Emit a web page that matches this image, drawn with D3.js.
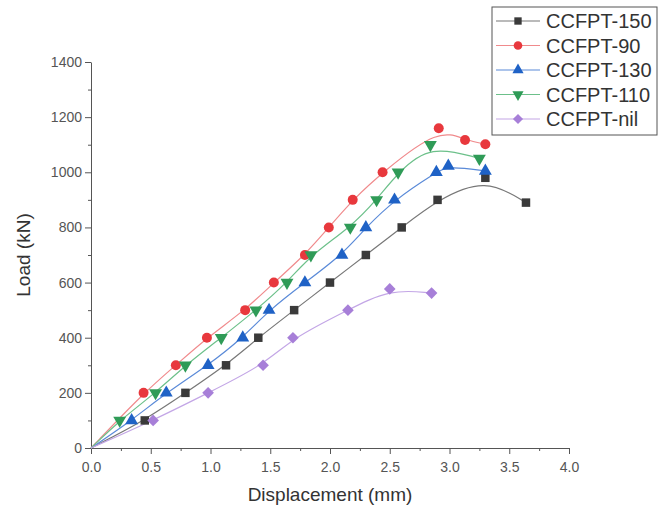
<!DOCTYPE html>
<html>
<head>
<meta charset="utf-8">
<script src="https://cdn.jsdelivr.net/npm/d3@7"></script>
<style>
  body { margin: 0; background: #fff; }
  svg { font-family: "Liberation Sans", Arial, sans-serif; }
</style>
</head>
<body>
<div id="chart"></div>
<script>
// data
const names = ["CCFPT-150", "CCFPT-90", "CCFPT-130", "CCFPT-110", "CCFPT-nil"];
const disp150 = [0, 0.45, 0.79, 1.13, 1.40, 1.70, 2.00, 2.30, 2.60, 2.90, 3.30, 3.64];
const load150 = [0, 100, 200, 300, 400, 500, 600, 700, 800, 900, 980, 890];
const disp90 = [0, 0.44, 0.71, 0.97, 1.29, 1.53, 1.79, 1.99, 2.19, 2.44, 2.91, 3.13, 3.30];
const load90 = [0, 200, 300, 400, 500, 600, 700, 800, 900, 1000, 1160, 1117, 1102];
const disp130 = [0, 0.34, 0.63, 0.98, 1.27, 1.49, 1.79, 2.10, 2.30, 2.54, 2.89, 2.99, 3.30];
const load130 = [0, 100, 200, 300, 400, 500, 600, 700, 800, 900, 1000, 1023, 1005];
const disp110 = [0, 0.24, 0.54, 0.79, 1.09, 1.38, 1.64, 1.84, 2.17, 2.39, 2.57, 2.84, 3.25];
const load110 = [0, 100, 200, 300, 400, 500, 600, 700, 800, 900, 1000, 1100, 1050];
const dispNil = [0, 0.52, 0.98, 1.44, 1.69, 2.15, 2.50, 2.85];
const loadNil = [0, 100, 200, 300, 400, 500, 577, 562];
const xTicks = [0, 0.5, 1.0, 1.5, 2.0, 2.5, 3.0, 3.5, 4.0];
const yTicks = [0, 200, 400, 600, 800, 1000, 1200, 1400];

const colors = ["#3a3a3a", "#e8383d", "#1f62c6", "#2f9b57", "#a77fd8"];
const lineColors = ["#777", "#f08a8c", "#5a8ad8", "#6cc08a", "#c3a6e6"];
const symbols = [d3.symbolSquare, d3.symbolCircle, d3.symbolTriangle, d3.symbolTriangle, d3.symbolSquare];
const rotations = [0, 0, 0, 180, 45];
const sizes = [72, 78, 72, 72, 68];

const dispAll = [disp150, disp90, disp130, disp110, dispNil];
const loadAll = [load150, load90, load130, load110, loadNil];
const series = names.map((n, i) => ({
  name: n, i: i,
  pts: dispAll[i].map((d, j) => ({x: d, y: loadAll[i][j]}))
}));

const W = 666, H = 512;
const margin = {top: 62, right: 97, bottom: 64, left: 91};
const width = W - margin.left - margin.right;
const height = H - margin.top - margin.bottom;

const svg = d3.select("#chart").append("svg")
  .attr("width", W).attr("height", H);
const g = svg.append("g")
  .attr("transform", `translate(${margin.left},${margin.top})`);

const x = d3.scaleLinear().domain([0, 4]).range([0, width]);
const y = d3.scaleLinear().domain([0, 1400]).range([height, 0]);

// axes
const xAxis = g.append("g").attr("transform", `translate(0,${height})`)
  .call(d3.axisBottom(x).tickValues(xTicks).tickFormat(d3.format(".1f")).tickSize(6).tickSizeOuter(0));
g.append("g").attr("transform", `translate(0,${height})`)
  .call(d3.axisBottom(x).tickValues(d3.range(0.25, 4, 0.5)).tickFormat("").tickSize(3).tickSizeOuter(0))
  .select(".domain").remove();
g.append("g")
  .call(d3.axisLeft(y).tickValues(yTicks).tickFormat(d3.format("d")).tickSize(6).tickSizeOuter(0));
g.append("g")
  .call(d3.axisLeft(y).tickValues(d3.range(100, 1400, 200)).tickFormat("").tickSize(3).tickSizeOuter(0))
  .select(".domain").remove();

g.selectAll(".domain, .tick line").attr("stroke", "#555");
g.selectAll(".tick text").attr("fill", "#555").style("font-size", "14px");
xAxis.selectAll(".tick text").attr("dy", "1.1em");

g.append("text")
  .attr("x", width / 2).attr("y", height + 53)
  .attr("text-anchor", "middle").style("font-size", "19px").attr("fill", "#333")
  .text("Displacement (mm)");
g.append("text")
  .attr("transform", `translate(${-61},${height / 2}) rotate(-90)`)
  .attr("text-anchor", "middle").style("font-size", "19px").attr("fill", "#333")
  .text("Load (kN)");

// lines
const line = d3.line().x(d => x(d.x)).y(d => y(d.y)).curve(d3.curveBasis);
series.forEach(s => {
  g.append("path").datum(s.pts)
    .attr("fill", "none")
    .attr("stroke", lineColors[s.i])
    .attr("stroke-width", 1.2)
    .attr("d", line);
});

// markers
series.forEach(s => {
  g.selectAll(".m" + s.i).data(s.pts.filter(d => d.y > 0)).enter()
    .append("path")
    .attr("class", "m" + s.i)
    .attr("transform", d => `translate(${x(d.x)},${y(d.y)}) rotate(${rotations[s.i]})`)
    .attr("d", d3.symbol().type(symbols[s.i]).size(sizes[s.i]))
    .attr("fill", colors[s.i]);
});

// legend
const lg = svg.append("g").attr("transform", "translate(492,7)");
lg.append("rect").attr("width", 165).attr("height", 128)
  .attr("fill", "#fff").attr("stroke", "#555").attr("stroke-width", 1);
series.forEach((s, k) => {
  const ly = 14 + k * 24.5;
  lg.append("line").attr("x1", 4).attr("x2", 48).attr("y1", ly).attr("y2", ly)
    .attr("stroke", lineColors[s.i]).attr("stroke-width", 1.2);
  lg.append("path")
    .attr("transform", `translate(26,${ly}) rotate(${rotations[s.i]})`)
    .attr("d", d3.symbol().type(symbols[s.i]).size(sizes[s.i] * 0.75))
    .attr("fill", colors[s.i]);
  lg.append("text").attr("x", 54).attr("y", ly + 7)
    .style("font-size", "20px").attr("fill", "#333")
    .text(s.name);
});
</script>
</body>
</html>
